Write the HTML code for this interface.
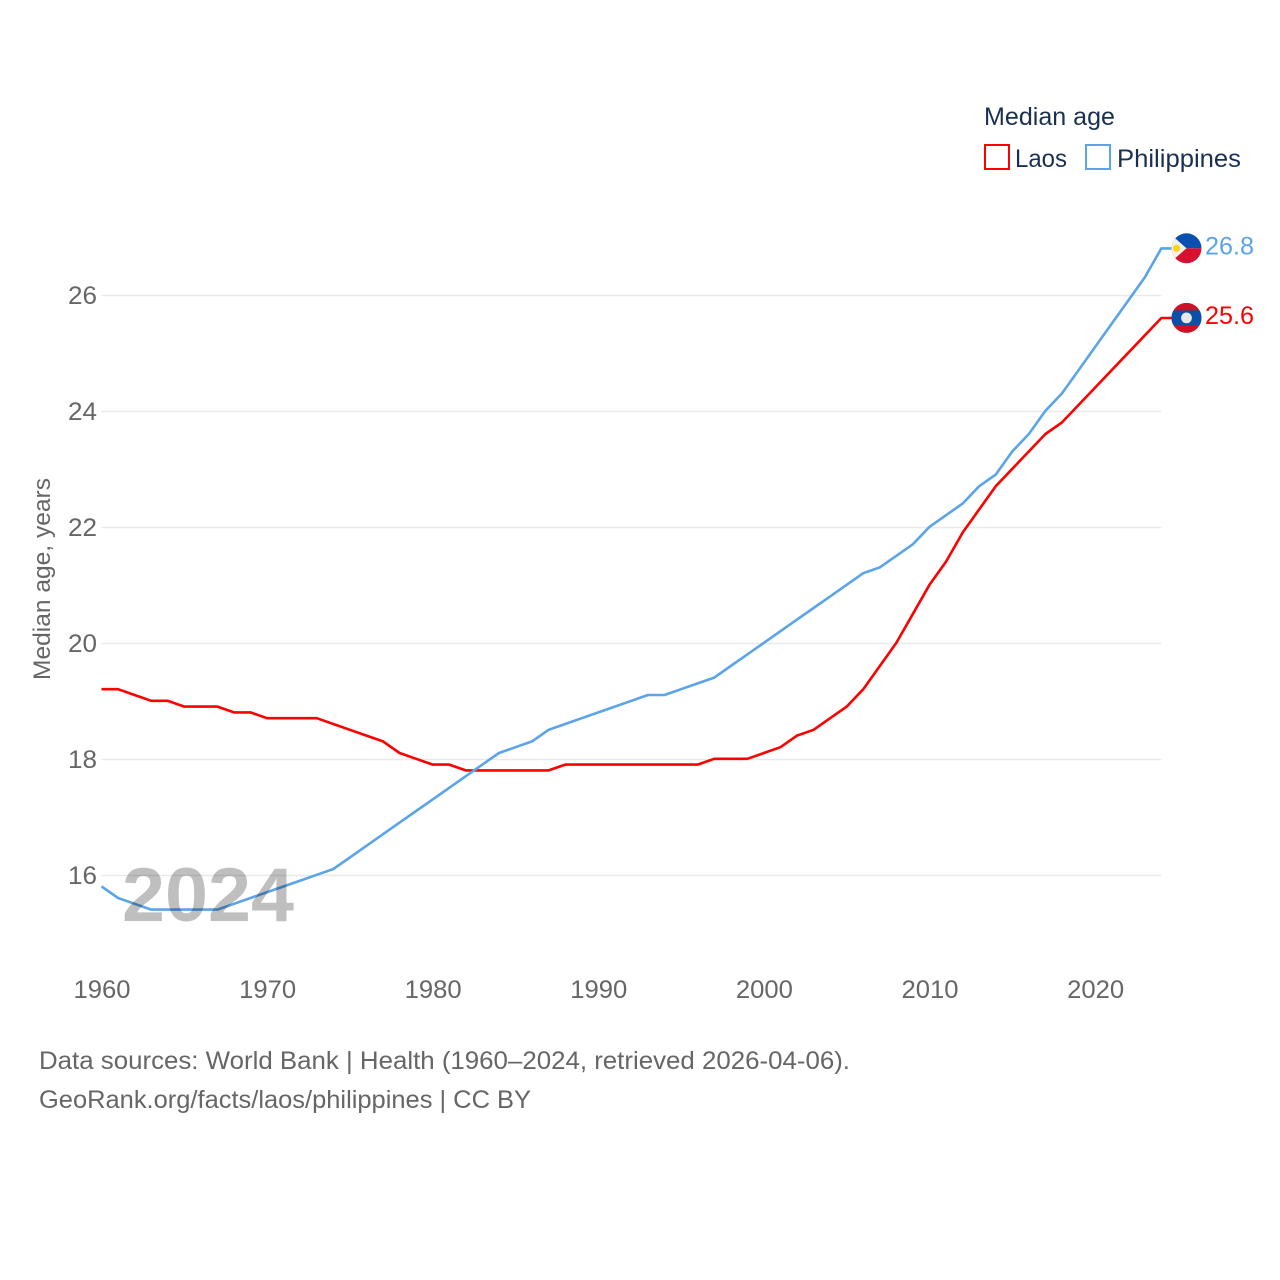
<!DOCTYPE html>
<html lang="en">
<head>
<meta charset="utf-8">
<title>Median age: Laos and Philippines</title>
<style>
html,body{margin:0;padding:0;background:#fff;width:1280px;height:1280px;overflow:hidden}
svg{display:block;font-family:"Liberation Sans",sans-serif}
</style>
</head>
<body>
<svg id="chart" width="1280" height="1280" viewBox="0 0 1280 1280" xmlns="http://www.w3.org/2000/svg">
  <defs>
    <clipPath id="flag-clip"><circle cx="0" cy="0" r="15"/></clipPath>
  </defs>
  <rect width="1280" height="1280" fill="#fff"/>
  <g id="grid"></g>
  <g id="yticks"></g>
  <g id="xticks"></g>
  <text transform="translate(50,680) rotate(-90)" font-size="24.5" fill="#666" textLength="202" lengthAdjust="spacingAndGlyphs">Median age, years</text>
  <g id="series" transform="translate(0,-0.7)"></g>
  <text x="122" y="921" font-size="76" font-weight="700" fill="#000" fill-opacity="0.25" textLength="172" lengthAdjust="spacingAndGlyphs">2024</text>
  <g id="flag-philippines">
    <g clip-path="url(#flag-clip)">
      <rect x="-16" y="-16" width="32" height="16" fill="#0a50b0"/>
      <rect x="-16" y="0" width="32" height="16" fill="#d8102f"/>
      <polygon points="-16,-14 0,0 -16,14" fill="#f4f1ea"/>
      <circle cx="-10" cy="0" r="3.6" fill="#fcd116"/>
    </g>
  </g>
  <g id="flag-laos">
    <g clip-path="url(#flag-clip)">
      <rect x="-16" y="-16" width="32" height="32" fill="#ce1126"/>
      <rect x="-16" y="-7.5" width="32" height="15" fill="#0a4fa8"/>
      <circle cx="0" cy="0" r="5.4" fill="#e8e8e8"/>
    </g>
  </g>
  <g id="endlabels"></g>

  <g>
    <text x="984" y="125" font-size="25" fill="#1a3050" textLength="131" lengthAdjust="spacingAndGlyphs">Median age</text>
    <rect x="985" y="145" width="24" height="24" fill="none" stroke="#ff0000" stroke-width="2"/>
    <text x="1015" y="167" font-size="25" fill="#1a3050" textLength="52" lengthAdjust="spacingAndGlyphs">Laos</text>
    <rect x="1086" y="145" width="24" height="24" fill="none" stroke="#5ba4ea" stroke-width="2"/>
    <text x="1117" y="167" font-size="25" fill="#1a3050" textLength="124" lengthAdjust="spacingAndGlyphs">Philippines</text>
  </g>

  <g>
    <text x="39" y="1069" font-size="25" fill="#666" textLength="811" lengthAdjust="spacingAndGlyphs">Data sources: World Bank | Health (1960–2024, retrieved 2026-04-06).</text>
    <text x="39" y="1108" font-size="25" fill="#666" textLength="492" lengthAdjust="spacingAndGlyphs">GeoRank.org/facts/laos/philippines | CC BY</text>
  </g>
</svg>
<script>
const years = [1960,1961,1962,1963,1964,1965,1966,1967,1968,1969,1970,1971,1972,1973,1974,1975,1976,1977,1978,1979,1980,1981,1982,1983,1984,1985,1986,1987,1988,1989,1990,1991,1992,1993,1994,1995,1996,1997,1998,1999,2000,2001,2002,2003,2004,2005,2006,2007,2008,2009,2010,2011,2012,2013,2014,2015,2016,2017,2018,2019,2020,2021,2022,2023,2024];
const laosValues = [19.2,19.2,19.1,19.0,19.0,18.9,18.9,18.9,18.8,18.8,18.7,18.7,18.7,18.7,18.6,18.5,18.4,18.3,18.1,18.0,17.9,17.9,17.8,17.8,17.8,17.8,17.8,17.8,17.9,17.9,17.9,17.9,17.9,17.9,17.9,17.9,17.9,18.0,18.0,18.0,18.1,18.2,18.4,18.5,18.7,18.9,19.2,19.6,20.0,20.5,21.0,21.4,21.9,22.3,22.7,23.0,23.3,23.6,23.8,24.1,24.4,24.7,25.0,25.3,25.6];
const philippinesValues = [15.8,15.6,15.5,15.4,15.4,15.4,15.4,15.4,15.5,15.6,15.7,15.8,15.9,16.0,16.1,16.3,16.5,16.7,16.9,17.1,17.3,17.5,17.7,17.9,18.1,18.2,18.3,18.5,18.6,18.7,18.8,18.9,19.0,19.1,19.1,19.2,19.3,19.4,19.6,19.8,20.0,20.2,20.4,20.6,20.8,21.0,21.2,21.3,21.5,21.7,22.0,22.2,22.4,22.7,22.9,23.3,23.6,24.0,24.3,24.7,25.1,25.5,25.9,26.3,26.8];
const yTickValues = [16,18,20,22,24,26];
const xTickValues = [1960,1970,1980,1990,2000,2010,2020];

const NS = 'http://www.w3.org/2000/svg';
const xScale = year => 101.5 + (year - 1960) * 16.56;
const yScale = value => 875.5 - (value - 16) * 58;

const grid = document.getElementById('grid');
const yticks = document.getElementById('yticks');
const xticks = document.getElementById('xticks');
const series = document.getElementById('series');
const endlabels = document.getElementById('endlabels');

yTickValues.forEach(value => {
  const line = document.createElementNS(NS, 'line');
  
  
  line.setAttribute('x1', xScale(1960));
  line.setAttribute('x2', xScale(2024));
  line.setAttribute('y1', yScale(value));
  line.setAttribute('y2', yScale(value));
  line.setAttribute('stroke', '#e9e9e9');
  line.setAttribute('stroke-width', '1.6');
  grid.appendChild(line);

  const label = document.createElementNS(NS, 'text');
  
  
  label.setAttribute('x', 68);
  label.setAttribute('y', yScale(value) + 8.5);
  label.setAttribute('font-size', '25');
  label.setAttribute('fill', '#666');
  label.setAttribute('textLength', '29');
  label.setAttribute('lengthAdjust', 'spacingAndGlyphs');
  label.textContent = String(value);
  yticks.appendChild(label);
});

xTickValues.forEach(year => {
  const label = document.createElementNS(NS, 'text');
  
  
  label.setAttribute('x', xScale(year) - 28);
  label.setAttribute('y', 998);
  label.setAttribute('font-size', '25');
  label.setAttribute('fill', '#666');
  label.setAttribute('textLength', '57');
  label.setAttribute('lengthAdjust', 'spacingAndGlyphs');
  label.textContent = String(year);
  xticks.appendChild(label);
});

function drawSeries(values, color, name) {
  const pts = values.map((v, i) => xScale(years[i]).toFixed(2) + ',' + yScale(v).toFixed(2));
  const lastY = yScale(values[values.length - 1]).toFixed(2);
  pts.push('1172,' + lastY);
  const line = document.createElementNS(NS, 'polyline');
  
  
  line.setAttribute('points', pts.join(' '));
  line.setAttribute('fill', 'none');
  line.setAttribute('stroke', color);
  line.setAttribute('stroke-width', '2.6');
  line.setAttribute('stroke-linejoin', 'round');
  series.appendChild(line);
}
drawSeries(laosValues, '#ff0000', 'laos');
drawSeries(philippinesValues, '#5ba4ea', 'philippines');

function placeEnd(values, color, name, flagId) {
  const last = values[values.length - 1];
  const y = yScale(last);
  document.getElementById(flagId).setAttribute('transform', 'translate(1186.5,' + (y - 0.8) + ')');
  const label = document.createElementNS(NS, 'text');
  
  
  label.setAttribute('x', 1205);
  label.setAttribute('y', y + 5.2);
  label.setAttribute('font-size', '25');
  label.setAttribute('fill', color);
  label.setAttribute('textLength', '49');
  label.setAttribute('lengthAdjust', 'spacingAndGlyphs');
  label.textContent = last.toFixed(1);
  endlabels.appendChild(label);
}
placeEnd(laosValues, '#ff0000', 'laos', 'flag-laos');
placeEnd(philippinesValues, '#5ba4ea', 'philippines', 'flag-philippines');
</script>
</body>
</html>
